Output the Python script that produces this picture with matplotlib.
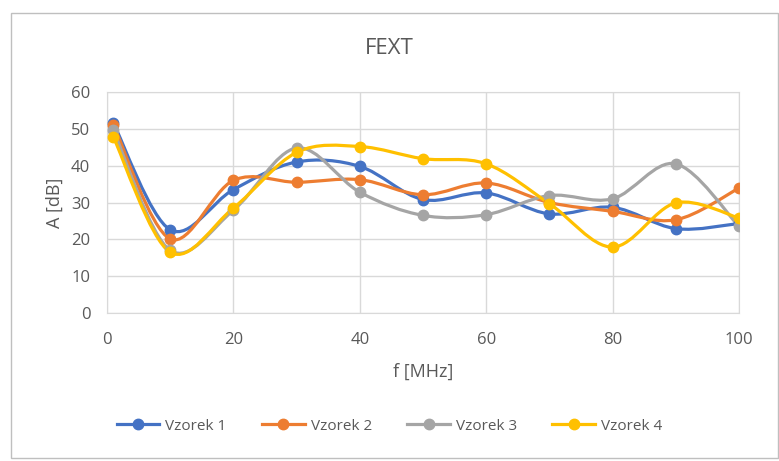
import numpy as np
import matplotlib.pyplot as plt
from matplotlib.path import Path
from matplotlib.patches import PathPatch, Rectangle
from matplotlib.lines import Line2D

# data
freq = [1, 10, 20, 30, 40, 50, 60, 70, 80, 90, 100]
vzorek_1 = [51.6, 22.6, 33.5, 41.0, 39.8, 30.8, 32.6, 26.9, 28.7, 22.9, 24.3]
vzorek_2 = [51.1, 20.1, 36.0, 35.5, 36.2, 32.1, 35.3, 30.0, 27.6, 25.3, 33.9]
vzorek_3 = [49.6, 17.0, 27.9, 44.8, 32.8, 26.5, 26.7, 31.9, 31.0, 40.5, 23.5]
vzorek_4 = [47.8, 16.5, 28.5, 43.6, 45.2, 41.9, 40.5, 29.7, 17.9, 29.9, 25.8]
labels = ["Vzorek 1", "Vzorek 2", "Vzorek 3", "Vzorek 4"]
colors = ["#4472C4", "#ED7D31", "#A5A5A5", "#FFC000"]

text_col = "#595959"
plt.rcParams['font.family'] = ['Open Sans', 'DejaVu Sans']


def smooth_path(x, y):
    # excel-like smoothed line: cubic bezier through the points
    pts = np.column_stack([x, y]).astype(float)
    n = len(pts)
    verts = [pts[0]]
    codes = [Path.MOVETO]
    for i in range(n - 1):
        p0 = pts[i - 1] if i > 0 else pts[i]
        p1 = pts[i]
        p2 = pts[i + 1]
        p3 = pts[i + 2] if i + 2 < n else pts[i + 1]
        c1 = p1 + (p2 - p0) / 6
        c2 = p2 - (p3 - p1) / 6
        verts += [c1, c2, p2]
        codes += [Path.CURVE4] * 3
    return Path(verts, codes)


fig = plt.figure(figsize=(7.79, 4.61), dpi=100)
ax = fig.add_axes([107 / 779, 1 - 313 / 461, (739 - 107) / 779, (313 - 92) / 461])

# outer chart border
fig.patches.append(Rectangle((11 / 779, 3 / 461), 767 / 779, 445 / 461,
                             transform=fig.transFigure, fill=False,
                             edgecolor="#BFBFBF", linewidth=1.0))

series = [vzorek_1, vzorek_2, vzorek_3, vzorek_4]
for vals, col in zip(series, colors):
    ax.add_patch(PathPatch(smooth_path(freq, vals), facecolor="none",
                           edgecolor=col, linewidth=2.3, capstyle="round",
                           joinstyle="round", zorder=3))
    ax.plot(freq, vals, linestyle="none", marker="o", markersize=7.5,
            color=col, zorder=4)

ax.set_xlim(0, 100)
ax.set_ylim(0, 60)
ax.set_xticks(range(0, 101, 20))
ax.set_yticks(range(0, 61, 10))
ax.grid(True, color="#D9D9D9", linewidth=1.0)
ax.set_axisbelow(True)
for s in ax.spines.values():
    s.set_color("#D9D9D9")
ax.tick_params(length=0, labelsize=12, colors=text_col)
ax.tick_params(axis="x", pad=14)
ax.tick_params(axis="y", pad=12)

fig.text(0.5, 1 - 48 / 461, "FEXT", fontsize=16, color=text_col,
         ha="center", va="center")
ax.set_xlabel("f [MHz]", fontsize=13, color=text_col, labelpad=10)
ax.set_ylabel("A [dB]", fontsize=13, color=text_col, labelpad=5)

handles = [Line2D([0], [0], color=c, linewidth=2.3, marker="o", markersize=7.5)
           for c in colors]
fig.legend(handles, labels, loc="center", bbox_to_anchor=(0.5, 1 - 426 / 461),
           ncol=4, frameon=False, fontsize=11, labelcolor=text_col,
           handlelength=2.8, handletextpad=0.4, columnspacing=2.3)

fig.savefig("out.png", dpi=100, facecolor="white")
